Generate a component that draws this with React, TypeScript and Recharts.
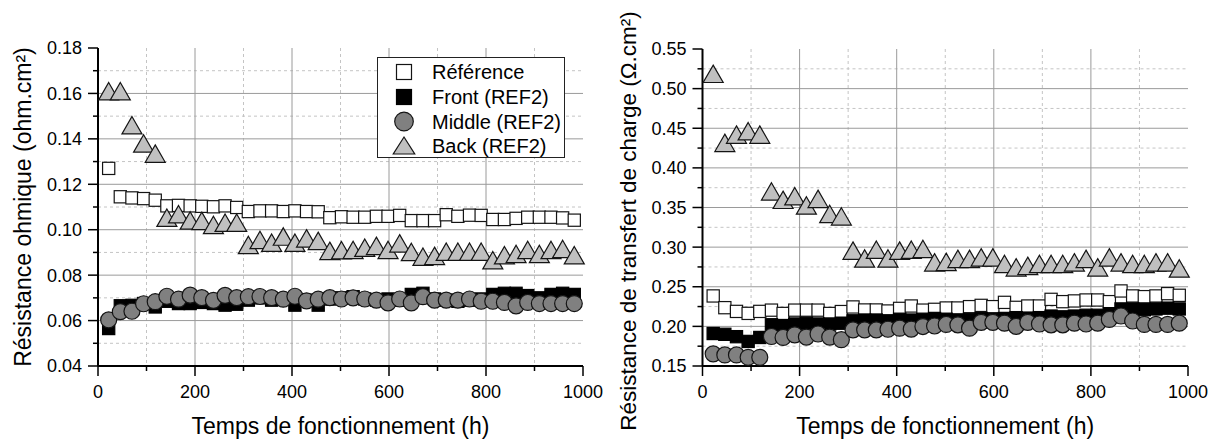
import React from 'react';
import { ScatterChart, Scatter, XAxis, YAxis, CartesianGrid, Legend } from 'recharts';

const FONT = '"Liberation Sans", Arial, Helvetica, sans-serif';

const TIMES = [22, 46, 70, 94, 118, 142, 166, 190, 214, 238, 262, 286, 310, 334, 358, 382, 406, 430, 454, 478, 502, 526, 550, 574, 598, 622, 646, 670, 694, 718, 742, 766, 790, 814, 838, 862, 886, 910, 934, 958, 982];

const SERIES_NAMES = ['Référence', 'Front (REF2)', 'Middle (REF2)', 'Back (REF2)'];

// Left chart: Résistance ohmique
const LEFT_REFERENCE = [0.127, 0.1145, 0.114, 0.1137, 0.113, 0.1105, 0.1107, 0.1105, 0.1103, 0.1101, 0.1105, 0.1098, 0.108, 0.1083, 0.1083, 0.108, 0.1083, 0.108, 0.1079, 0.1053, 0.1057, 0.1055, 0.1055, 0.1059, 0.1059, 0.1063, 0.104, 0.104, 0.104, 0.1066, 0.1059, 0.1064, 0.1063, 0.1045, 0.1045, 0.105, 0.1055, 0.1055, 0.1055, 0.1052, 0.1042];
const LEFT_FRONT = [0.0565, 0.0665, 0.0667, 0.0675, 0.066, 0.0685, 0.0675, 0.0675, 0.068, 0.0675, 0.0668, 0.0672, 0.069, 0.07, 0.069, 0.0695, 0.0668, 0.069, 0.0668, 0.0695, 0.07, 0.0705, 0.0695, 0.069, 0.0695, 0.069, 0.0715, 0.072, 0.0695, 0.069, 0.0685, 0.069, 0.0695, 0.0715, 0.072, 0.072, 0.071, 0.07, 0.0715, 0.072, 0.0715];
const LEFT_MIDDLE = [0.0603, 0.0639, 0.0641, 0.0674, 0.0683, 0.0707, 0.0694, 0.0712, 0.0701, 0.0689, 0.0711, 0.0701, 0.0705, 0.0706, 0.0701, 0.0694, 0.0707, 0.0687, 0.0694, 0.0701, 0.0695, 0.07, 0.0695, 0.069, 0.0678, 0.0695, 0.0678, 0.0705, 0.069, 0.069, 0.069, 0.0695, 0.0685, 0.0685, 0.068, 0.0665, 0.068, 0.0675, 0.0675, 0.0675, 0.0675];
const LEFT_BACK = [0.161, 0.161, 0.146, 0.138, 0.1335, 0.1053, 0.1068, 0.1041, 0.1039, 0.1021, 0.1031, 0.1031, 0.0933, 0.0955, 0.0943, 0.097, 0.0943, 0.0962, 0.0951, 0.0907, 0.091, 0.0911, 0.0921, 0.0929, 0.0911, 0.094, 0.0902, 0.0881, 0.0885, 0.0903, 0.0903, 0.0903, 0.0903, 0.0866, 0.0888, 0.0893, 0.0911, 0.0893, 0.0911, 0.0915, 0.0888];

// Right chart: Résistance de transfert de charge
const RIGHT_REFERENCE = [0.2384, 0.2236, 0.2189, 0.2164, 0.2189, 0.2205, 0.2163, 0.2205, 0.2205, 0.2205, 0.2163, 0.2187, 0.2245, 0.2207, 0.2207, 0.2194, 0.2227, 0.2257, 0.2205, 0.2215, 0.2232, 0.2232, 0.2249, 0.2265, 0.2249, 0.2303, 0.224, 0.2257, 0.2257, 0.2341, 0.2312, 0.2321, 0.2333, 0.2333, 0.2312, 0.2447, 0.2384, 0.2375, 0.2384, 0.2413, 0.2392];
const RIGHT_FRONT = [0.191, 0.19, 0.187, 0.181, 0.186, 0.202, 0.201, 0.203, 0.204, 0.203, 0.203, 0.204, 0.207, 0.208, 0.208, 0.207, 0.209, 0.208, 0.209, 0.21, 0.209, 0.208, 0.209, 0.21, 0.209, 0.21, 0.211, 0.21, 0.211, 0.213, 0.212, 0.213, 0.214, 0.214, 0.216, 0.222, 0.222, 0.221, 0.222, 0.223, 0.222];
const RIGHT_MIDDLE = [0.1653, 0.164, 0.164, 0.161, 0.161, 0.1872, 0.186, 0.1893, 0.1865, 0.1904, 0.1865, 0.1832, 0.1956, 0.1956, 0.1956, 0.1964, 0.1977, 0.1966, 0.1998, 0.2005, 0.2025, 0.2019, 0.1977, 0.2051, 0.2051, 0.204, 0.2, 0.2051, 0.203, 0.2019, 0.2019, 0.204, 0.203, 0.204, 0.2088, 0.2131, 0.2068, 0.2025, 0.2025, 0.2025, 0.204];
const RIGHT_BACK = [0.5187, 0.4316, 0.442, 0.4462, 0.442, 0.3703, 0.3597, 0.3642, 0.3526, 0.3609, 0.3419, 0.3388, 0.2956, 0.2857, 0.2968, 0.2857, 0.2956, 0.2968, 0.2977, 0.2808, 0.2814, 0.2852, 0.2852, 0.2871, 0.2871, 0.2788, 0.2745, 0.2764, 0.2788, 0.2788, 0.2788, 0.2808, 0.2852, 0.2745, 0.2871, 0.2808, 0.2788, 0.2788, 0.2808, 0.2808, 0.2731];

// Axes
const X_TICKS = [0, 100, 200, 300, 400, 500, 600, 700, 800, 900, 1000];
const X_MAJOR = [0, 200, 400, 600, 800, 1000];
const X_GRID_MAJOR = [200, 400, 600, 800];
const X_GRID_MINOR = [100, 300, 500, 700, 900];

const LEFT_Y_TICKS = [0.04, 0.05, 0.06, 0.07, 0.08, 0.09, 0.1, 0.11, 0.12, 0.13, 0.14, 0.15, 0.16, 0.17, 0.18];
const LEFT_Y_MAJOR = [0.04, 0.06, 0.08, 0.1, 0.12, 0.14, 0.16, 0.18];
const LEFT_Y_GRID_MAJOR = [0.06, 0.08, 0.1, 0.12, 0.14, 0.16];
const LEFT_Y_GRID_MINOR = [0.05, 0.07, 0.09, 0.11, 0.13, 0.15, 0.17];

const RIGHT_Y_TICKS = [0.15, 0.175, 0.2, 0.225, 0.25, 0.275, 0.3, 0.325, 0.35, 0.375, 0.4, 0.425, 0.45, 0.475, 0.5, 0.525, 0.55];
const RIGHT_Y_MAJOR = [0.15, 0.2, 0.25, 0.3, 0.35, 0.4, 0.45, 0.5, 0.55];
const RIGHT_Y_GRID_MAJOR = [0.2, 0.25, 0.3, 0.35, 0.4, 0.45, 0.5];
const RIGHT_Y_GRID_MINOR = [0.175, 0.225, 0.275, 0.325, 0.375, 0.425, 0.475, 0.525];

const X_TITLE = 'Temps de fonctionnement (h)';
const LEFT_Y_TITLE = 'Résistance ohmique (ohm.cm²)';
const RIGHT_Y_TITLE = 'Résistance de transfert de charge (Ω.cm²)';

const toPoints = (ys: number[]) => TIMES.map((t, i) => ({ x: t, y: ys[i] }));

const STROKE = '#141414';

const square = (cx: number, cy: number, s: number, fill: string, stroke: string, key?: string) => (
  <rect key={key} x={cx - s / 2} y={cy - s / 2} width={s} height={s} fill={fill} stroke={stroke} strokeWidth={1.2} />
);
const circle = (cx: number, cy: number, r: number, key?: string) => (
  <circle key={key} cx={cx} cy={cy} r={r} fill="#808080" stroke={STROKE} strokeWidth={1.2} />
);
const triangle = (cx: number, cy: number, w: number, h: number, key?: string) => (
  <polygon
    key={key}
    points={`${cx},${cy - h / 2} ${cx + w / 2},${cy + h / 2} ${cx - w / 2},${cy + h / 2}`}
    fill="#c0c0c0"
    stroke={STROKE}
    strokeWidth={1.2}
  />
);

const WhiteSquare = (p: any) => square(p.cx, p.cy, 12.2, '#ffffff', STROKE);
const BlackSquare = (p: any) => square(p.cx, p.cy, 12.2, '#000000', '#000000');
const GreyCircle = (p: any) => circle(p.cx, p.cy, 8);
const GreyTriangle = (p: any) => triangle(p.cx, p.cy, 20, 17.4);

const isIn = (list: number[], v: number) => list.some((m) => Math.abs(m - v) < 1e-9);

const TICK_SIZE = 10;
const TICK_MARGIN = 6;

const makeYTick = (major: number[]) => (props: any) => {
  const { x, y, payload } = props;
  const axisX = x + TICK_SIZE + TICK_MARGIN;
  const maj = isIn(major, payload.value);
  return (
    <g>
      <line x1={axisX - (maj ? 10 : 5)} x2={axisX} y1={y} y2={y} stroke="#000" strokeWidth={1.5} />
      {maj && (
        <text x={axisX - 16} y={y} dy="0.36em" textAnchor="end" fontSize={18} fontFamily={FONT} fill="#000">
          {Number(payload.value).toFixed(2)}
        </text>
      )}
    </g>
  );
};

const makeXTick = (major: number[]) => (props: any) => {
  const { x, y, payload } = props;
  const axisY = y - TICK_SIZE - TICK_MARGIN;
  const maj = isIn(major, payload.value);
  return (
    <g>
      <line x1={x} x2={x} y1={axisY} y2={axisY + (maj ? 10 : 5)} stroke="#000" strokeWidth={1.5} />
      {maj && (
        <text x={x} y={axisY + 32} textAnchor="middle" fontSize={18} fontFamily={FONT} fill="#000">
          {payload.value}
        </text>
      )}
    </g>
  );
};

const xTitle = (props: any) => {
  const vb = props.viewBox;
  return (
    <text x={vb.x + vb.width / 2} y={vb.y + 68} textAnchor="middle" fontSize={23} fontFamily={FONT} fill="#000">
      {X_TITLE}
    </text>
  );
};

const makeYTitle = (title: string, dx: number, dy: number, size: number) => (props: any) => {
  const vb = props.viewBox;
  const cx = vb.x + dx;
  const cy = vb.y + vb.height / 2 + dy;
  return (
    <text
      transform={`translate(${cx}, ${cy}) rotate(-90)`}
      x={0}
      y={0}
      textAnchor="middle"
      fontSize={size}
      fontFamily={FONT}
      fill="#000"
    >
      {title}
    </text>
  );
};

const LegendBox = () => {
  const rowY = [15, 40, 64.5, 88.5];
  const symbols = [
    square(27, rowY[0], 15, '#ffffff', STROKE, 'a'),
    square(27, rowY[1], 15, '#000000', '#000000', 'b'),
    circle(27, rowY[2], 9.3, 'c'),
    triangle(27, rowY[3], 21.5, 17, 'd'),
  ];
  return (
    <svg width={188} height={101} style={{ display: 'block' }}>
      <rect x={0.5} y={0.5} width={187} height={100} fill="#ffffff" stroke="#222" strokeWidth={1} />
      {SERIES_NAMES.map((name, i) => (
        <g key={name}>
          {symbols[i]}
          <text x={55} y={rowY[i]} dy="0.36em" fontSize={20} fontFamily={FONT} fill="#000">
            {name}
          </text>
        </g>
      ))}
    </svg>
  );
};

type PanelProps = {
  width: number;
  margin: { top: number; right: number; bottom: number; left: number };
  yDomain: [number, number];
  yTicks: number[];
  yMajor: number[];
  yGridMajor: number[];
  yGridMinor: number[];
  yTitle: string;
  yTitleSize: number;
  yTitleDx: number;
  yTitleDy: number;
  series: number[][];
  legend?: boolean;
};

const Panel = (p: PanelProps) => (
  <ScatterChart width={p.width} height={443} margin={p.margin}>
    <CartesianGrid horizontalValues={p.yGridMinor} verticalValues={X_GRID_MINOR} stroke="#c4c4c4" strokeDasharray="3 3" strokeWidth={1} />
    <CartesianGrid horizontalValues={p.yGridMajor} verticalValues={X_GRID_MAJOR} stroke="#9a9a9a" strokeWidth={1} />
    <XAxis
      type="number"
      dataKey="x"
      domain={[0, 1000]}
      ticks={X_TICKS}
      interval={0}
      height={77}
      tickSize={TICK_SIZE}
      tickMargin={TICK_MARGIN}
      tickLine={false}
      axisLine={{ stroke: '#000', strokeWidth: 2 }}
      tick={makeXTick(X_MAJOR)}
      label={{ content: xTitle }}
    />
    <YAxis
      type="number"
      dataKey="y"
      domain={p.yDomain}
      ticks={p.yTicks}
      interval={0}
      width={60}
      tickSize={TICK_SIZE}
      tickMargin={TICK_MARGIN}
      tickLine={false}
      axisLine={{ stroke: '#000', strokeWidth: 2 }}
      tick={makeYTick(p.yMajor)}
      label={{ content: makeYTitle(p.yTitle, p.yTitleDx, p.yTitleDy, p.yTitleSize) }}
    />
    {p.legend && (
      <Legend
        layout="vertical"
        align="center"
        verticalAlign="middle"
        wrapperStyle={{ left: 377, top: 57, width: 188, height: 101 }}
        content={() => <LegendBox />}
      />
    )}
    <Scatter name={SERIES_NAMES[0]} data={toPoints(p.series[0])} shape={WhiteSquare} isAnimationActive={false} />
    <Scatter name={SERIES_NAMES[1]} data={toPoints(p.series[1])} shape={BlackSquare} isAnimationActive={false} />
    <Scatter name={SERIES_NAMES[2]} data={toPoints(p.series[2])} shape={GreyCircle} isAnimationActive={false} />
    <Scatter name={SERIES_NAMES[3]} data={toPoints(p.series[3])} shape={GreyTriangle} isAnimationActive={false} />
  </ScatterChart>
);

export default function App() {
  return (
    <div style={{ position: 'absolute', left: 0, top: 0, width: 1217, height: 443, background: '#ffffff', overflow: 'hidden' }}>
      <div style={{ position: 'absolute', left: 0, top: 0 }}>
        <Panel
          width={620}
          margin={{ top: 48, right: 37, bottom: 0, left: 38 }}
          yDomain={[0.04, 0.18]}
          yTicks={LEFT_Y_TICKS}
          yMajor={LEFT_Y_MAJOR}
          yGridMajor={LEFT_Y_GRID_MAJOR}
          yGridMinor={LEFT_Y_GRID_MINOR}
          yTitle={LEFT_Y_TITLE}
          yTitleSize={23}
          yTitleDx={-7}
          yTitleDy={0}
          series={[LEFT_REFERENCE, LEFT_FRONT, LEFT_MIDDLE, LEFT_BACK]}
          legend
        />
      </div>
      <div style={{ position: 'absolute', left: 600, top: 0 }}>
        <Panel
          width={617}
          margin={{ top: 49, right: 29, bottom: 0, left: 42.5 }}
          yDomain={[0.15, 0.55]}
          yTicks={RIGHT_Y_TICKS}
          yMajor={RIGHT_Y_MAJOR}
          yGridMajor={RIGHT_Y_GRID_MAJOR}
          yGridMinor={RIGHT_Y_GRID_MINOR}
          yTitle={RIGHT_Y_TITLE}
          yTitleSize={22.5}
          yTitleDx={-6.5}
          yTitleDy={13.5}
          series={[RIGHT_REFERENCE, RIGHT_FRONT, RIGHT_MIDDLE, RIGHT_BACK]}
        />
      </div>
    </div>
  );
}
